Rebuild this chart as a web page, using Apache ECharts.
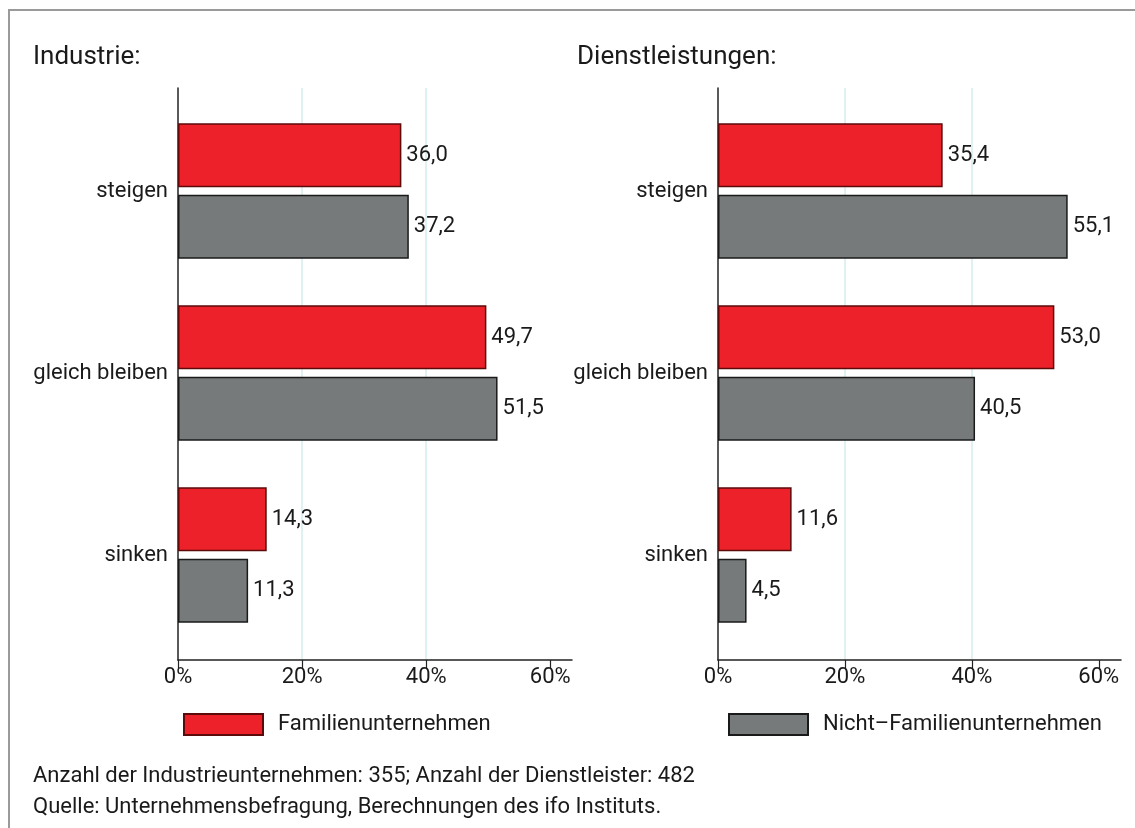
<!DOCTYPE html>
<html>
<head>
<meta charset="utf-8">
<script src="https://cdn.jsdelivr.net/npm/echarts@6/dist/echarts.min.js"></script>
<style>
html, body { margin: 0; padding: 0; background: #fff; }
#main { width: 1135px; height: 828px; }
</style>
</head>
<body>
<div id="main"></div>
<script>
// Daten
var categories = ['steigen', 'gleich bleiben', 'sinken'];
var seriesNames = ['Familienunternehmen', 'Nicht\u2013Familienunternehmen'];
var industrieFamilie = [36.0, 49.7, 14.3];
var industrieNicht = [37.2, 51.5, 11.3];
var dienstFamilie = [35.4, 53.0, 11.6];
var dienstNicht = [55.1, 40.5, 4.5];
var tickValues = [0, 20, 40, 60];
var axisMax = 63.5;

var fontName = 'Roboto, "Noto Sans", sans-serif';
var textColor = '#1a1a1a';
var red = '#ed2129';
var grey = '#777a7a';
var gridColor = '#d6ecec';

var myChart = echarts.init(document.getElementById('main'));

function fmt(v) {
	return v.toFixed(1).replace('.', ',');
}

// Achsen-Grid (Linien, Ticks, Gitternetz)
function axisX(gridIndex, showLast) {
	return {
		type : 'value',
		gridIndex : gridIndex,
		min : 0,
		max : axisMax,
		interval : 20,
		axisLine : { show : true, lineStyle : { color : '#222', width : 1.5 } },
		axisTick : { show : true, length : 8, customValues : tickValues, lineStyle : { color : '#222', width : 1.2 } },
		axisLabel : {
			customValues : tickValues,
			margin : 6,
			fontSize : 22,
			fontFamily : fontName,
			color : textColor,
			formatter : '{value}%'
		},
		splitLine : {
			show : true,
			showMinLine : false,
			showMaxLine : false,
			lineStyle : { color : showLast ? [gridColor] : [gridColor, gridColor, 'rgba(0,0,0,0)'], width : 1.5 }
		}
	};
}
function axisY(gridIndex) {
	return {
		type : 'category',
		gridIndex : gridIndex,
		data : categories,
		axisLine : { show : true, lineStyle : { color : '#222', width : 1.5 } },
		axisTick : { show : false },
		axisLabel : { show : false },
		splitLine : { show : false }
	};
}
// Balken-Grid
function barX(gridIndex) {
	return {
		type : 'value',
		gridIndex : gridIndex,
		min : 0,
		max : axisMax,
		show : false
	};
}
function barY(gridIndex) {
	return {
		type : 'category',
		gridIndex : gridIndex,
		data : categories,
		inverse : true,
		axisLine : { show : false },
		axisTick : { show : false },
		axisLabel : { margin : 10, fontSize : 22, fontFamily : fontName, color : textColor }
	};
}
function barSeries(name, data, idx, color, border) {
	return {
		name : name,
		type : 'bar',
		xAxisIndex : idx,
		yAxisIndex : idx,
		data : data,
		barWidth : 64,
		barGap : '12%',
		itemStyle : { color : color, borderColor : border, borderWidth : 1.5 },
		label : {
			show : true,
			position : 'right',
			distance : 5,
			fontSize : 22,
			fontFamily : fontName,
			color : textColor,
			formatter : function(p) { return fmt(p.value); }
		},
		emphasis : { disabled : true }
	};
}

var option = {
	animation : false,
	backgroundColor : '#fff',
	textStyle : { fontFamily : fontName },
	title : [ {
		text : 'Industrie:',
		left : 28,
		top : 39,
		textStyle : { fontSize : 26, fontWeight : 'normal', color : textColor, fontFamily : fontName }
	}, {
		text : 'Dienstleistungen:',
		left : 572,
		top : 39,
		textStyle : { fontSize : 26, fontWeight : 'normal', color : textColor, fontFamily : fontName }
	} ],
	legend : [ {
		data : [ seriesNames[0] ],
		left : 178,
		top : 708,
		itemWidth : 79,
		itemHeight : 21,
		icon : 'rect',
		selectedMode : false,
		textStyle : { fontSize : 22, fontFamily : fontName, color : textColor, padding : [0, 0, 0, 10] }
	}, {
		data : [ seriesNames[1] ],
		left : 723,
		top : 708,
		itemWidth : 79,
		itemHeight : 21,
		icon : 'rect',
		selectedMode : false,
		textStyle : { fontSize : 22, fontFamily : fontName, color : textColor, padding : [0, 0, 0, 10] }
	} ],
	grid : [
		{ left : 178, top : 88, width : 394, height : 572 },
		{ left : 718, top : 88, width : 403, height : 572 },
		{ left : 178, top : 100, width : 394, height : 546 },
		{ left : 718, top : 100, width : 403, height : 546 }
	],
	xAxis : [ axisX(0, false), axisX(1, true), barX(2), barX(3) ],
	yAxis : [ axisY(0), axisY(1), barY(2), barY(3) ],
	series : [
		barSeries(seriesNames[0], industrieFamilie, 2, red, '#5c0a0a'),
		barSeries(seriesNames[1], industrieNicht, 2, grey, '#1a1a1a'),
		barSeries(seriesNames[0], dienstFamilie, 3, red, '#5c0a0a'),
		barSeries(seriesNames[1], dienstNicht, 3, grey, '#1a1a1a')
	],
	graphic : [ {
		type : 'polyline',
		shape : { points : [ [9, 828], [9, 10], [1135, 10] ] },
		style : { stroke : '#9a9a9a', lineWidth : 2, fill : null },
		silent : true
	}, {
		type : 'text',
		left : 33,
		top : 761,
		style : {
			text : 'Anzahl der Industrieunternehmen: 355; Anzahl der Dienstleister: 482\nQuelle: Unternehmensbefragung, Berechnungen des ifo Instituts.',
			font : '22px ' + fontName,
			fill : textColor,
			lineHeight : 31
		}
	} ]
};
myChart.setOption(option);
</script>
</body>
</html>
